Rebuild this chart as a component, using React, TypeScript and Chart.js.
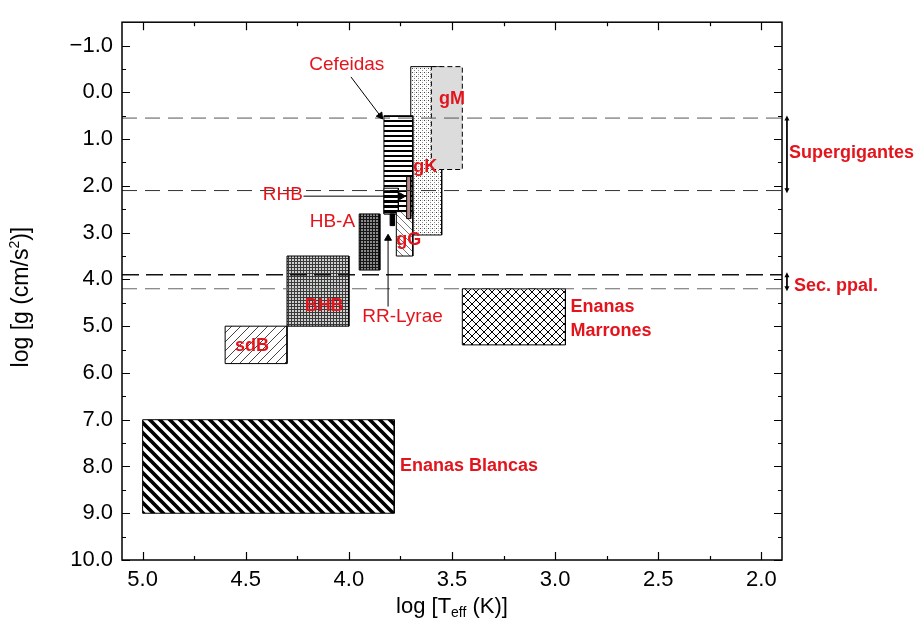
import React, { useEffect, useRef } from 'react';
import { Chart, registerables } from 'chart.js';

Chart.register(...registerables);

// ---------- Axis data ----------
const xMin = 1.9;
const xMax = 5.1;
const yMin = -1.5;
const yMax = 10.0;
const xTicks = [5.0, 4.5, 4.0, 3.5, 3.0, 2.5, 2.0];
const xMinorTicks = [4.75, 4.25, 3.75, 3.25, 2.75, 2.25];
const yTicks = [-1, 0, 1, 2, 3, 4, 5, 6, 7, 8, 9, 10];
const yMinorTicks = [-0.5, 0.5, 1.5, 2.5, 3.5, 4.5, 5.5, 6.5, 7.5, 8.5, 9.5];

// ---------- Regions (log Teff hot/cool edges, log g top/bottom edges) ----------
const regionNames = [
  'Enanas Blancas', 'sdB', 'BHB', 'HB-A', 'Enanas Marrones', 'gK/gM (puntos)',
  'gM', 'Cefeidas', 'RHB', 'gG', 'gK', 'RR-Lyrae',
];
const regionLogTHot = [5.0, 4.6, 4.3, 3.95, 3.45, 3.70, 3.60, 3.83, 3.83, 3.77, 3.72, 3.80];
const regionLogTCool = [3.78, 4.3, 4.0, 3.85, 2.95, 3.55, 3.45, 3.69, 3.76, 3.69, 3.70, 3.78];
const regionLogGTop = [7.0, 5.0, 3.5, 2.6, 4.2, -0.55, -0.55, 0.5, 2.05, 2.55, 1.8, 2.6];
const regionLogGBottom = [9.0, 5.8, 5.0, 3.8, 5.4, 3.05, 1.65, 2.6, 2.6, 3.5, 2.7, 2.85];

// ---------- Reference log g lines ----------
const refLineLogG = [0.55, 2.1, 3.9, 4.2];

// ---------- Arrows ----------
const arrowNames = ['Cefeidas', 'RHB', 'RR-Lyrae', 'Supergigantes', 'Sec. ppal.'];
const arrowFromLogT = [3.99, 4.22, 3.81, 1.876, 1.876];
const arrowFromLogG = [-0.33, 2.22, 4.58, 0.58, 3.93];
const arrowToLogT = [3.848, 3.745, 3.81, 1.876, 1.876];
const arrowToLogG = [0.5, 2.22, 3.12, 2.07, 4.17];
const arrowDouble = [false, false, false, true, true];

// ---------- Annotations ----------
const labelTexts = [
  'Cefeidas', 'gM', 'gK', 'RHB', 'HB-A', 'gG', 'BHB', 'RR-Lyrae',
  'Enanas', 'Marrones', 'sdB', 'Enanas Blancas', 'Supergigantes', 'Sec. ppal.',
];
const labelLogT = [4.01, 3.5, 3.63, 4.32, 4.08, 3.71, 4.12, 3.74, 2.925, 2.925, 4.47, 3.752, 1.866, 1.842];
const labelLogG = [-0.6, 0.15, 1.6, 2.2, 2.76, 3.16, 4.56, 4.8, 4.6, 5.1, 5.43, 8.0, 1.3, 4.14];

// ---------- Styles ----------
const FONT = '"Liberation Sans", Arial, Helvetica, sans-serif';
const RED = '#e3141c';
const regionStyle: Record<string, { pattern: string; dash?: number[] }> = {
  'Enanas Blancas': { pattern: 'diag' },
  sdB: { pattern: 'hatchLight' },
  BHB: { pattern: 'gridGray' },
  'HB-A': { pattern: 'gridDark' },
  'Enanas Marrones': { pattern: 'cross' },
  'gK/gM (puntos)': { pattern: 'dots' },
  gM: { pattern: 'gray', dash: [5, 3] },
  Cefeidas: { pattern: 'hStripes' },
  RHB: { pattern: 'hStripesBold' },
  gG: { pattern: 'hatchG' },
  gK: { pattern: 'brown' },
  'RR-Lyrae': { pattern: 'black' },
};
const refLineStyle = [
  { color: '#555', width: 1, dash: [15, 8] },
  { color: '#333', width: 1, dash: [15, 8] },
  { color: '#111', width: 1.6, dash: [17, 7] },
  { color: '#666', width: 1, dash: [15, 8] },
];
const labelBold = [false, true, true, false, false, true, true, false, true, true, true, true, true, true];
const labelLeft = [false, false, false, false, false, false, false, false, true, true, false, true, true, true];

function makePattern(ctx: CanvasRenderingContext2D, kind: string): CanvasPattern | string {
  if (kind === 'gray') return '#dcdcdc';
  if (kind === 'brown') return '#b58a8a';
  if (kind === 'black') return '#000';
  const c = document.createElement('canvas');
  const g = c.getContext('2d')!;
  const size = (w: number, h: number) => {
    c.width = w;
    c.height = h;
    g.fillStyle = '#fff';
    g.fillRect(0, 0, w, h);
  };
  const diag = (s: number, down: boolean, color: string, lw: number) => {
    g.strokeStyle = color;
    g.lineWidth = lw;
    g.beginPath();
    for (const o of [-s, 0, s]) {
      if (down) {
        g.moveTo(o - 2, -2);
        g.lineTo(o + s + 2, s + 2);
      } else {
        g.moveTo(o - 2, s + 2);
        g.lineTo(o + s + 2, -2);
      }
    }
    g.stroke();
  };
  switch (kind) {
    case 'diag':
      size(10, 10);
      diag(10, true, '#000', 3.7);
      break;
    case 'hatchLight':
      size(9, 9);
      diag(9, false, '#444', 1);
      break;
    case 'hatchG':
      size(7, 7);
      diag(7, true, '#777', 1);
      break;
    case 'cross':
      size(8, 8);
      diag(8, true, '#000', 1);
      diag(8, false, '#000', 1);
      break;
    case 'gridGray':
      size(3, 3);
      g.fillStyle = '#cfcfcf';
      g.fillRect(0, 0, 3, 3);
      g.fillStyle = '#3a3a3a';
      g.fillRect(0, 0, 3, 1);
      g.fillRect(0, 0, 1, 3);
      break;
    case 'gridDark':
      size(3, 3);
      g.fillStyle = '#8a8a8a';
      g.fillRect(0, 0, 3, 3);
      g.fillStyle = '#151515';
      g.fillRect(0, 0, 3, 1);
      g.fillRect(0, 0, 1, 3);
      break;
    case 'dots':
      size(4, 4);
      g.fillStyle = '#444';
      g.fillRect(0, 0, 1, 1);
      g.fillStyle = '#888';
      g.fillRect(2, 2, 1, 1);
      g.fillStyle = '#c4c4c4';
      g.fillRect(2, 0, 1, 1);
      break;
    case 'hStripes':
      size(5, 5);
      g.fillStyle = '#000';
      g.fillRect(0, 0, 5, 2);
      break;
    case 'hStripesBold':
      size(5, 5);
      g.fillStyle = '#000';
      g.fillRect(0, 0, 5, 3);
      break;
    default:
      return '#fff';
  }
  return ctx.createPattern(c, 'repeat') || '#fff';
}

const overlayPlugin = {
  id: 'overlay',
  afterDatasetsDraw(chart: any) {
    const { ctx, chartArea: a, scales } = chart;
    const xs = scales.x;
    const ys = scales.y;
    ctx.save();
    // frame
    ctx.strokeStyle = '#000';
    ctx.lineWidth = 1.5;
    ctx.setLineDash([]);
    ctx.strokeRect(a.left, a.top, a.right - a.left, a.bottom - a.top);
    // inward ticks on all four sides
    ctx.lineWidth = 1.2;
    ctx.beginPath();
    const xt = (vals: number[], len: number) => {
      for (const v of vals) {
        const px = Math.round(xs.getPixelForValue(v)) + 0.5;
        ctx.moveTo(px, a.bottom);
        ctx.lineTo(px, a.bottom - len);
        ctx.moveTo(px, a.top);
        ctx.lineTo(px, a.top + len);
      }
    };
    const yt = (vals: number[], len: number) => {
      for (const v of vals) {
        const py = Math.round(ys.getPixelForValue(v)) + 0.5;
        ctx.moveTo(a.left, py);
        ctx.lineTo(a.left + len, py);
        ctx.moveTo(a.right, py);
        ctx.lineTo(a.right - len, py);
      }
    };
    xt(xTicks, 8);
    xt(xMinorTicks, 4);
    yt(yTicks, 8);
    yt(yMinorTicks, 4);
    ctx.stroke();

    // arrowheads of the double arrows outside the plot area (points there are not drawn by Chart.js)
    ctx.fillStyle = '#000';
    arrowNames.forEach((_, i) => {
      if (!arrowDouble[i]) return;
      const px = xs.getPixelForValue(arrowFromLogT[i]);
      const y1 = ys.getPixelForValue(arrowFromLogG[i]);
      const y2 = ys.getPixelForValue(arrowToLogG[i]);
      const head = (y: number, dir: number) => {
        ctx.beginPath();
        ctx.moveTo(px, y + dir * 4);
        ctx.lineTo(px - 2.5, y - dir * 1);
        ctx.lineTo(px + 2.5, y - dir * 1);
        ctx.closePath();
        ctx.fill();
      };
      head(y1, -1);
      head(y2, 1);
    });

    // annotations
    ctx.fillStyle = RED;
    ctx.textBaseline = 'middle';
    labelTexts.forEach((t, i) => {
      ctx.font = `${labelBold[i] ? 'bold 18px' : '19px'} ${FONT}`;
      ctx.textAlign = labelLeft[i] ? 'left' : 'center';
      ctx.fillText(t, xs.getPixelForValue(labelLogT[i]), ys.getPixelForValue(labelLogG[i]));
    });

    // axis titles
    ctx.fillStyle = '#000';
    // x title: log [T_eff (K)]
    const xMain = `22px ${FONT}`;
    const xSub = `14px ${FONT}`;
    ctx.textAlign = 'left';
    ctx.textBaseline = 'alphabetic';
    ctx.font = xMain;
    const p1 = 'log [T';
    const p3 = ' (K)]';
    const w1 = ctx.measureText(p1).width;
    const w3 = ctx.measureText(p3).width;
    ctx.font = xSub;
    const w2 = ctx.measureText('eff').width;
    const x0 = (a.left + a.right) / 2 - (w1 + w2 + w3) / 2;
    const by = 613;
    ctx.font = xMain;
    ctx.fillText(p1, x0, by);
    ctx.font = xSub;
    ctx.fillText('eff', x0 + w1, by + 4);
    ctx.font = xMain;
    ctx.fillText(p3, x0 + w1 + w2, by);

    // y title: log [g (cm/s^2)]
    const yMainF = `23px ${FONT}`;
    const ySupF = `14px ${FONT}`;
    ctx.save();
    ctx.translate(28, (a.top + a.bottom) / 2 + 6);
    ctx.rotate(-Math.PI / 2);
    ctx.font = yMainF;
    const q1 = 'log [g (cm/s';
    const q3 = ')]';
    const v1 = ctx.measureText(q1).width;
    const v3 = ctx.measureText(q3).width;
    ctx.font = ySupF;
    const v2 = ctx.measureText('2').width;
    const s0 = -(v1 + v2 + v3) / 2;
    ctx.font = yMainF;
    ctx.fillText(q1, s0, 0);
    ctx.font = ySupF;
    ctx.fillText('2', s0 + v1, -9);
    ctx.font = yMainF;
    ctx.fillText(q3, s0 + v1 + v2, 0);
    ctx.restore();
    ctx.restore();
  },
};

export default function App() {
  const ref = useRef<HTMLCanvasElement>(null);
  useEffect(() => {
    const canvas = ref.current!;
    const ctx = canvas.getContext('2d')!;
    const datasets: any[] = [];

    regionNames.forEach((name, i) => {
      const st = regionStyle[name];
      datasets.push({
        label: name,
        data: [
          { x: regionLogTHot[i], y: regionLogGTop[i] },
          { x: regionLogTCool[i], y: regionLogGTop[i] },
          { x: regionLogTCool[i], y: regionLogGBottom[i] },
          { x: regionLogTHot[i], y: regionLogGBottom[i] },
          { x: regionLogTHot[i], y: regionLogGTop[i] },
        ],
        showLine: true,
        fill: 'shape',
        backgroundColor: makePattern(ctx, st.pattern),
        borderColor: '#000',
        borderWidth: 1,
        borderDash: st.dash || [],
        pointRadius: 0,
        pointHoverRadius: 0,
        tension: 0,
      });
    });

    refLineLogG.forEach((g, i) => {
      const st = refLineStyle[i];
      datasets.push({
        label: `log g = ${g}`,
        data: [
          { x: xMax, y: g },
          { x: xMin, y: g },
        ],
        showLine: true,
        fill: false,
        borderColor: st.color,
        borderWidth: st.width,
        borderDash: st.dash,
        pointRadius: 0,
        pointHoverRadius: 0,
      });
    });

    arrowNames.forEach((name, i) => {
      const from = { x: arrowFromLogT[i], y: arrowFromLogG[i] };
      const to = { x: arrowToLogT[i], y: arrowToLogG[i] };
      datasets.push({
        label: `flecha ${name}`,
        data: [from, to],
        showLine: true,
        fill: false,
        clip: false,
        borderColor: '#000',
        borderWidth: 1,
        pointStyle: 'triangle',
        pointRadius: arrowDouble[i] ? [0, 0] : [0, 4],
        pointHoverRadius: 0,
        pointBackgroundColor: '#000',
        pointBorderColor: '#000',
        pointBorderWidth: 1,
        pointRotation: (c: any) => {
          const ch = c.chart;
          const d = c.dataset.data;
          const j = c.dataIndex;
          const p = d[j === 0 ? 1 : 0];
          const q = d[j];
          const dx = ch.scales.x.getPixelForValue(q.x) - ch.scales.x.getPixelForValue(p.x);
          const dy = ch.scales.y.getPixelForValue(q.y) - ch.scales.y.getPixelForValue(p.y);
          return (Math.atan2(dx, -dy) * 180) / Math.PI;
        },
      });
    });

    const n = datasets.length;
    datasets.forEach((d, i) => (d.order = n - i));

    const chart = new Chart(canvas, {
      type: 'scatter',
      data: { datasets },
      options: {
        animation: false,
        responsive: false,
        maintainAspectRatio: false,
        events: [],
        layout: { padding: { left: 0, top: 9, right: 135, bottom: 0 } },
        plugins: { legend: { display: false }, tooltip: { enabled: false } },
        scales: {
          x: {
            type: 'linear',
            min: xMin,
            max: xMax,
            reverse: true,
            grid: { display: false, drawTicks: false },
            border: { display: false },
            afterBuildTicks: (s: any) => {
              s.ticks = xTicks.map((v) => ({ value: v }));
            },
            afterFit: (s: any) => {
              s.height = 67;
            },
            ticks: {
              autoSkip: false,
              maxRotation: 0,
              padding: 7,
              color: '#000',
              font: { family: FONT, size: 22 },
              callback: (v: any) => Number(v).toFixed(1),
            },
          },
          y: {
            type: 'linear',
            min: yMin,
            max: yMax,
            reverse: true,
            grid: { display: false, drawTicks: false },
            border: { display: false },
            afterBuildTicks: (s: any) => {
              s.ticks = yTicks.map((v) => ({ value: v }));
            },
            afterFit: (s: any) => {
              s.width = 122;
            },
            ticks: {
              autoSkip: false,
              padding: 9,
              color: '#000',
              font: { family: FONT, size: 22 },
              callback: (v: any) => (Number(v) < 0 ? '\u2212' + Math.abs(Number(v)).toFixed(1) : Number(v).toFixed(1)),
            },
          },
        },
      },
      plugins: [overlayPlugin],
    } as any);
    return () => chart.destroy();
  }, []);

  return (
    <div style={{ position: 'absolute', left: 0, top: 0, width: 917, height: 627, background: '#fff' }}>
      <canvas ref={ref} width={917} height={627} style={{ display: 'block', width: 917, height: 627 }} />
    </div>
  );
}
